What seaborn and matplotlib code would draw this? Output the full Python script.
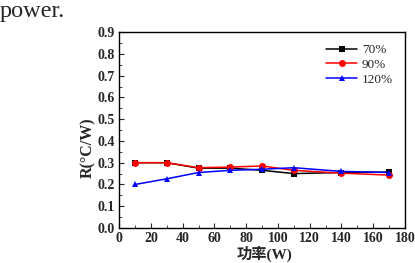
import pandas as pd
import numpy as np
import seaborn as sns
import matplotlib.pyplot as plt
from matplotlib.ticker import MultipleLocator, AutoMinorLocator

# dados
power_w = [10, 30, 50, 70, 90, 110, 140, 170]
r_70 = [0.300, 0.300, 0.275, 0.275, 0.265, 0.250, 0.255, 0.257]
r_90 = [0.300, 0.300, 0.277, 0.280, 0.285, 0.265, 0.252, 0.243]
r_120 = [0.200, 0.226, 0.255, 0.265, 0.270, 0.277, 0.260, 0.255]
series_names = ['70%', '90%', '120%']

df = pd.DataFrame({
    'P': power_w * 3,
    'R': r_70 + r_90 + r_120,
    'grupo': [n for n in series_names for _ in power_w],
})

sns.set_style('ticks')
serif = ['Liberation Serif', 'DejaVu Serif', 'Noto Sans CJK SC']
plt.rcParams['font.family'] = serif

fig = plt.figure(figsize=(4.15, 2.63), dpi=100)
ax = fig.add_axes([0.287, 0.133, 0.689, 0.745])

cores = {'70%': 'black', '90%': 'red', '120%': 'blue'}
marcadores = {'70%': 's', '90%': 'o', '120%': '^'}
for nome in series_names:
    sub = df[df['grupo'] == nome]
    sns.lineplot(data=sub, x='P', y='R', ax=ax, color=cores[nome],
                 marker=marcadores[nome], markersize=5, markeredgewidth=0,
                 linewidth=1.1, label=nome)

ax.set_xlim(0, 180)
ax.set_ylim(0, 0.9)
ax.xaxis.set_major_locator(MultipleLocator(20))
ax.yaxis.set_major_locator(MultipleLocator(0.1))
ax.xaxis.set_minor_locator(AutoMinorLocator(2))
ax.yaxis.set_minor_locator(AutoMinorLocator(2))
ax.tick_params(which='both', direction='in', top=False, right=False)
ax.tick_params(which='major', length=3.5, width=0.8, labelsize=10, pad=3)
ax.tick_params(which='minor', length=2, width=0.6)
ax.yaxis.set_major_formatter(plt.FormatStrFormatter('%.1f'))
for lab in ax.get_xticklabels() + ax.get_yticklabels():
    lab.set_fontweight('bold')

for s in ax.spines.values():
    s.set_linewidth(1.0)
    s.set_color('black')

ax.set_xlabel('功率(W)', fontsize=11, fontweight='bold', family=serif)
ax.set_ylabel('R(°C/W)', fontsize=11.5, fontweight='bold', family=serif)
ax.xaxis.set_label_coords(0.51, -0.088)
ax.yaxis.set_label_coords(-0.08, 0.41)

leg = ax.legend(loc='upper right', frameon=False, fontsize=9.5,
                handlelength=2.3, labelspacing=0.2, borderaxespad=0.5,
                handletextpad=0.4)

fig.text(0.0, 0.936, 'power.', fontsize=17.5, family=serif, ha='left', va='baseline')

fig.savefig('out.png', dpi=100)
